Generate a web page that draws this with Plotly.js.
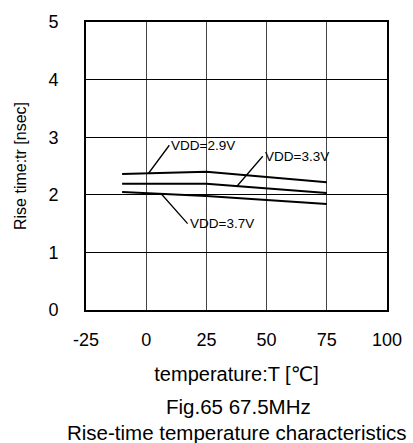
<!DOCTYPE html>
<html>
<head>
<meta charset="utf-8">
<script src="https://cdn.plot.ly/plotly-3.0.1.min.js"></script>
<style>html,body{margin:0;padding:0;background:#fff;}#chart{width:413px;height:443px;}</style>
</head>
<body>
<div id="chart"></div>
<script>
// Data
const temperature = [-10, 25, 75];
const vdd29 = [2.36, 2.40, 2.22];
const vdd33 = [2.19, 2.19, 2.03];
const vdd37 = [2.05, 1.98, 1.84];
const seriesNames = ["VDD=2.9V", "VDD=3.3V", "VDD=3.7V"];
const seriesValues = [vdd29, vdd33, vdd37];
// label leaders: point on curve (x,y) and text anchor (ax,ay)
const labelTipX = [0.9, 37.5, 6.4];
const labelTipY = [2.37, 2.14, 2.01];
const labelTextX = [9.6, 48.4, 17.2];
const labelTextY = [2.86, 2.67, 1.50];
const xTicks = [-25, 0, 25, 50, 75, 100];
const yTicks = [0, 1, 2, 3, 4, 5];
const captionLines = ["Fig.65 67.5MHz", "Rise-time temperature characteristics"];

const FONT = "Arial, 'Liberation Sans', 'DejaVu Sans', sans-serif";
const W = 413, H = 443, ML = 86, MR = 26, MT = 22, MB = 133;
const plotW = W - ML - MR, plotH = H - MT - MB;

const traces = seriesValues.map((v, i) => ({
  x: temperature, y: v, type: "scatter", mode: "lines", name: seriesNames[i],
  line: {color: "#000", width: 2}, showlegend: false, hoverinfo: "skip"
}));

const annotations = seriesNames.map((n, i) => ({
  x: labelTipX[i], y: labelTipY[i], xref: "x", yref: "y",
  ax: labelTextX[i], ay: labelTextY[i], axref: "x", ayref: "y",
  text: n, showarrow: true, arrowhead: 0, arrowwidth: 1.3, arrowcolor: "#000",
  standoff: 0, startstandoff: 0, xanchor: "left", yanchor: "middle",
  font: {family: FONT, size: 13.5, color: "#000"}
}));
// caption lines below the x-axis title (pixel centres converted to paper coords)
const captionCentreX = [238, 237];
const captionCentreY = [406, 432];
captionLines.forEach((t, i) => annotations.push({
  x: (captionCentreX[i] - ML) / plotW, y: (MT + plotH - captionCentreY[i]) / plotH,
  xref: "paper", yref: "paper", xanchor: "center", yanchor: "middle",
  text: t, showarrow: false, font: {family: FONT, size: 20.5, color: "#000"}
}));

const layout = {
  width: W, height: H,
  margin: {l: ML, r: MR, t: MT, b: MB},
  paper_bgcolor: "#fff", plot_bgcolor: "#fff",
  showlegend: false,
  xaxis: {
    range: [-25, 100], tickvals: xTicks, ticktext: xTicks.map(String),
    showgrid: true, gridcolor: "#444", gridwidth: 1,
    showline: true, mirror: true, linecolor: "#000", linewidth: 2,
    ticks: "", ticklabelstandoff: 12, zeroline: false,
    tickfont: {family: FONT, size: 18, color: "#000"},
    title: {text: "temperature:T [℃]", font: {family: FONT, size: 20, color: "#000"}, standoff: 18}
  },
  yaxis: {
    range: [0, 5], tickvals: yTicks, ticktext: yTicks.map(String),
    showgrid: true, gridcolor: "#000", gridwidth: 1,
    showline: true, mirror: true, linecolor: "#000", linewidth: 2,
    ticks: "", ticklabelstandoff: 22, zeroline: false,
    tickfont: {family: FONT, size: 18, color: "#000"},
    title: {text: "Rise time:tr [nsec]", font: {family: FONT, size: 16, color: "#000"}, standoff: 18}
  },
  annotations: annotations
};

Plotly.newPlot("chart", traces, layout, {staticPlot: true, displayModeBar: false});
</script>
</body>
</html>
